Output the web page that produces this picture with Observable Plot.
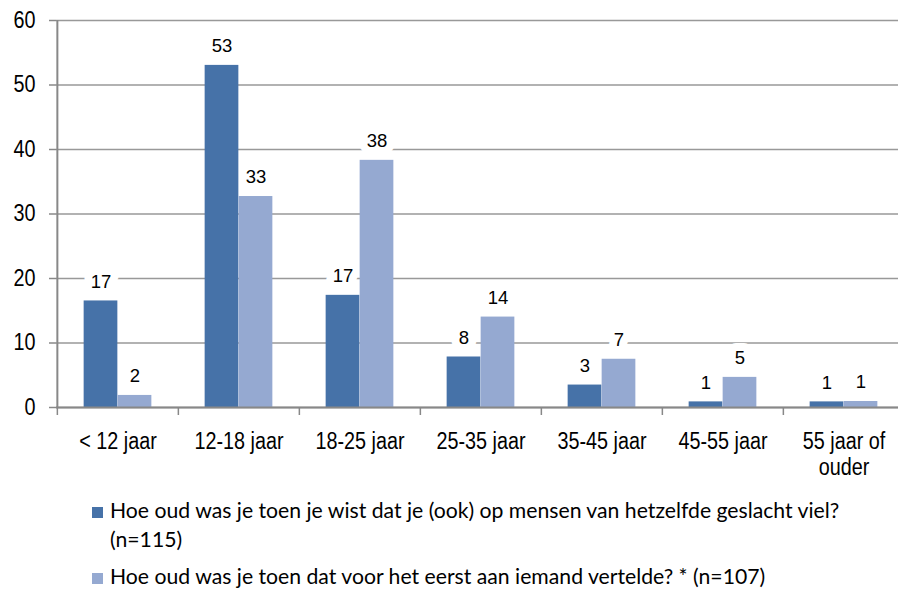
<!DOCTYPE html>
<html>
<head>
<meta charset="utf-8">
<script src="https://cdn.jsdelivr.net/npm/d3@7"></script>
<script src="https://cdn.jsdelivr.net/npm/@observablehq/plot@0.6"></script>
<style>
  body { margin: 0; background: #fff; }
  #chart svg { display: block; }
  .legend {
    font-family: Lato, "Open Sans", sans-serif;
    font-size: 21.2px;
    color: #000;
    padding-left: 92px;
    padding-top: 16px;
  }
  .legend .item { display: flex; align-items: flex-start; line-height: 29px; }
  .legend .item + .item { margin-top: 8px; }
  .legend .swatch { flex: none; width: 11px; height: 11px; margin-top: 11px; margin-right: 7px; }
  .legend .label { white-space: pre-line; }
</style>
</head>
<body>
<div id="chart"></div>
<div class="legend" id="legend"></div>
<script>
// Age groups on the x axis
const categories = ["< 12 jaar", "12-18 jaar", "18-25 jaar", "25-35 jaar", "35-45 jaar", "45-55 jaar", "55 jaar of\nouder"];

// Percentages per age group for each question
const knewValues = [16.52, 53.04, 17.39, 7.83, 3.48, 0.87, 0.87];
const toldValues = [1.87, 32.71, 38.32, 14.02, 7.48, 4.67, 0.93];

const seriesNames = [
  "Hoe oud was je toen je wist dat je (ook) op mensen van hetzelfde geslacht viel?\n(n=115)",
  "Hoe oud was je toen dat voor het eerst aan iemand vertelde? * (n=107)"
];
const seriesColors = ["#4672a8", "#95a9d1"];

const yTicks = [0, 10, 20, 30, 40, 50, 60];

const knewRows = categories.map((cat, i) => ({cat, value: knewValues[i]}));
const toldRows = categories.map((cat, i) => ({cat, value: toldValues[i]}));

const axisFont = "'Liberation Sans', Arial, sans-serif";
const labelFont = "'Liberation Sans', Arial, sans-serif";

// Category bands run slightly past the right edge of the page
const xRange = [56, 905];
const step = (xRange[1] - xRange[0]) / categories.length;
const barW = 34;
const outer = (step - 2 * barW) / 2;
const axisColor = "#888";

const chart = Plot.plot({
  width: 898,
  height: 480,
  marginTop: 20,
  marginBottom: 73,
  marginLeft: 56,
  marginRight: 0,
  style: {fontFamily: axisFont, fontSize: "23px", color: "#000", background: "#fff", overflow: "hidden"},
  x: {type: "band", domain: categories, range: xRange, padding: 0},
  y: {domain: [0, 60]},
  marks: [
    Plot.gridY(yTicks, {stroke: "#999", strokeOpacity: 1, strokeWidth: 1.3}),
    Plot.axisY(yTicks, {tickSize: 7, tickPadding: 14, stroke: axisColor, strokeWidth: 1.5, fontSize: 23, label: null}),
    // value labels, with a white box that breaks the gridlines
    Plot.text(knewRows, {x: "cat", y: "value", text: d => Math.round(d.value), dx: -barW / 2, dy: -19,
      fill: "#000", stroke: "white", strokeWidth: 16, paintOrder: "stroke", fontFamily: labelFont, fontSize: 18.5}),
    Plot.text(toldRows, {x: "cat", y: "value", text: d => Math.round(d.value), dx: barW / 2, dy: -19,
      fill: "#000", stroke: "white", strokeWidth: 16, paintOrder: "stroke", fontFamily: labelFont, fontSize: 18.5}),
    Plot.barY(knewRows, {x: "cat", y: "value", fill: seriesColors[0], insetLeft: outer, insetRight: step - outer - barW}),
    Plot.barY(toldRows, {x: "cat", y: "value", fill: seriesColors[1], insetLeft: outer + barW, insetRight: outer}),
    Plot.ruleY([0], {stroke: axisColor, strokeWidth: 2}),
    Plot.ruleX([categories[0]], {dx: -step / 2, stroke: axisColor, strokeWidth: 2}),
    // tick marks between the age groups
    Plot.axisX({tickSize: 8, tickFormat: () => "", dx: -step / 2, stroke: axisColor, strokeWidth: 1.5, label: null}),
    Plot.axisX({tickSize: 0, tickPadding: 23, fontSize: 23, lineHeight: 1.13, label: null})
  ]
});

// Narrow the axis tick labels horizontally around their anchor point
function condense(selector, sx) {
  chart.querySelectorAll(selector).forEach(el => {
    const t = el.getAttribute("transform") || "";
    const x = +el.getAttribute("x") || 0;
    const y = +el.getAttribute("y") || 0;
    el.setAttribute("transform", `${t} translate(${x},${y}) scale(${sx},1) translate(${-x},${-y})`);
  });
}
condense('g[aria-label="x-axis tick label"] text', 0.86);
condense('g[aria-label="y-axis tick label"] text', 0.86);

document.getElementById("chart").appendChild(chart);

const legend = document.getElementById("legend");
seriesNames.forEach((name, i) => {
  const item = document.createElement("div");
  item.className = "item";
  const sw = document.createElement("span");
  sw.className = "swatch";
  sw.style.background = seriesColors[i];
  const lab = document.createElement("span");
  lab.className = "label";
  lab.textContent = name;
  item.append(sw, lab);
  legend.appendChild(item);
});
</script>
</body>
</html>
